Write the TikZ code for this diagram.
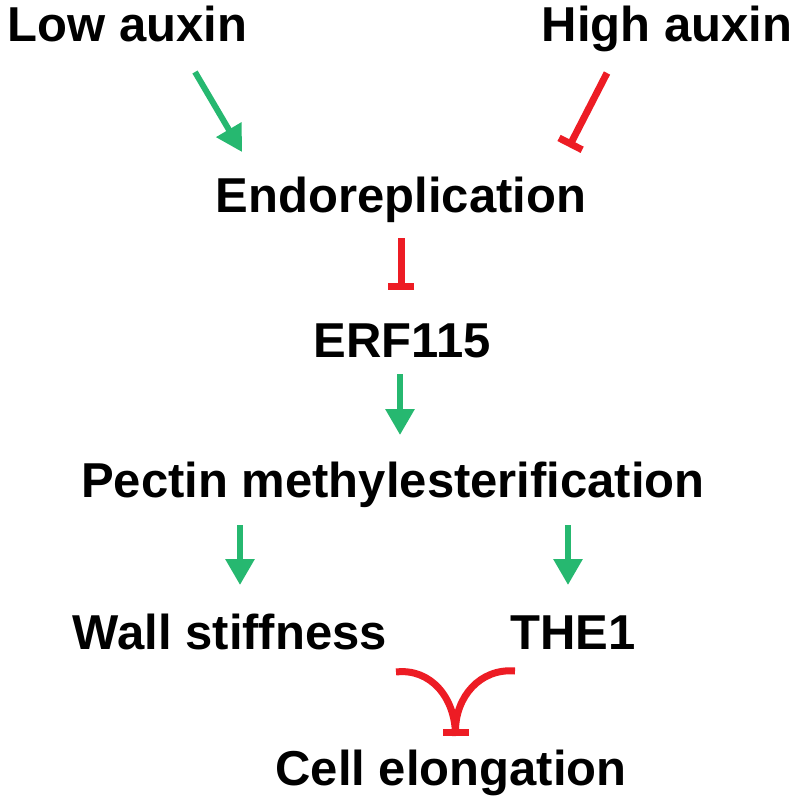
\documentclass[tikz,border=0pt]{standalone}
\usepackage{fontspec}
\setmainfont{Liberation Sans}
\usetikzlibrary{arrows.meta,calc}
\definecolor{actgreen}{RGB}{38,184,112}
\definecolor{inhred}{RGB}{237,28,36}
\tikzset{
  lbl/.style={anchor=base,inner sep=0pt,font=\fontsize{49}{58}\selectfont\bfseries},
  act/.style={draw=actgreen,line width=6pt,-{Triangle[width=28pt,length=26pt]}},
  inh/.style={draw=inhred,line width=7pt,-{Bar[width=26pt]}}
}
\begin{document}
\begin{tikzpicture}[x=1pt,y=-1pt]
\useasboundingbox (0,0) rectangle (800,808);
\node[lbl] (low) at (127.5,42) {Low auxin};
\node[lbl] (high) at (667,42) {High auxin};
\node[lbl] (endo) at (401,212) {Endoreplication};
\node[lbl] (erf) at (402,357) {ERF115};
\node[lbl] (pectin) at (393,497) {Pectin methylesterification};
\node[lbl] (wall) at (230,649) {Wall stiffness};
\node[lbl] (the1) at (573,649) {THE1};
\node[lbl] (cell) at (451,785) {Cell elongation};

\draw[act] ($(low.base)+(67.5,30)$) -- ($(endo.base)+(-159,-60)$);
\draw[inh] ($(high.base)+(-60,31)$) -- ($(endo.base)+(168,-65)$);
\draw[inh] ($(endo.base)+(0,26)$) -- ($(erf.base)+(-1,-67)$);
\draw[act] ($(erf.base)+(-2,17)$) -- ($(pectin.base)+(7,-62)$);
\draw[act] ($(pectin.base)+(-153,28)$) -- ($(wall.base)+(10,-64)$);
\draw[act] ($(pectin.base)+(175,28)$) -- ($(the1.base)+(-5,-64)$);
\draw[draw=inhred,line width=7pt] ($(wall.base)+(166,23)$) .. controls ($(wall.base)+(200,19)$) and ($(cell.base)+(4.5,-88)$) .. ($(cell.base)+(4.5,-49)$);
\draw[inh] ($(the1.base)+(-58,22)$) .. controls ($(the1.base)+(-93,19)$) and ($(cell.base)+(4.5,-88)$) .. ($(cell.base)+(4.5,-49)$);
\end{tikzpicture}
\end{document}
